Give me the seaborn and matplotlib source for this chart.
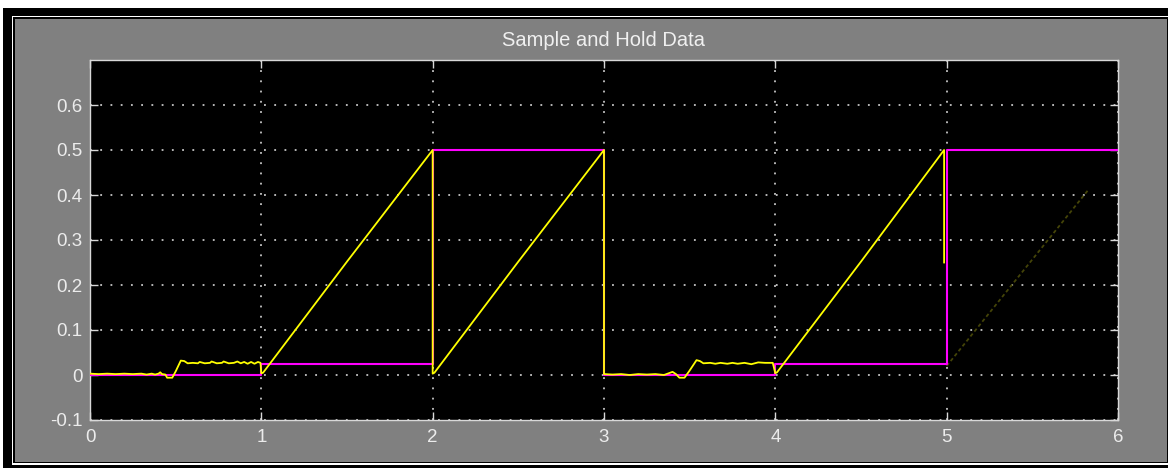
import matplotlib
matplotlib.use("Agg")
import matplotlib.pyplot as plt
from matplotlib.patches import Rectangle
import numpy as np
import pandas as pd
import seaborn as sns

# ---- data -------------------------------------------------------------
# continuous input signal (sawtooth with small ripple)
input_t = [0.00, 0.05, 0.10, 0.15, 0.20, 0.25, 0.30, 0.33, 0.36, 0.38,
           0.40, 0.41, 0.42, 0.44, 0.45, 0.48, 0.50, 0.53, 0.55, 0.57,
           0.60, 0.63, 0.64, 0.67, 0.70, 0.71, 0.74, 0.77, 0.78, 0.81,
           0.84, 0.86, 0.88, 0.90, 0.92, 0.94, 0.96, 0.98, 0.995, 1.00,
           1.01, 1.50, 2.00,
           2.00, 2.01, 2.50, 3.00,
           3.00, 3.05, 3.10, 3.15, 3.20, 3.25, 3.30, 3.35, 3.40, 3.42,
           3.44, 3.47, 3.50, 3.54, 3.56, 3.58, 3.62, 3.65, 3.68, 3.72,
           3.75, 3.78, 3.82, 3.86, 3.90, 3.94, 3.97, 3.985, 4.00,
           4.01, 4.50, 4.985,
           4.985]
input_y = [0.003, 0.002, 0.003, 0.002, 0.003, 0.002, 0.003, 0.001, 0.003, 0.001,
           0.003, 0.006, 0.002, 0.001, -0.006, -0.006, 0.008, 0.032, 0.031, 0.026,
           0.027, 0.026, 0.029, 0.026, 0.027, 0.030, 0.026, 0.027, 0.030, 0.026,
           0.027, 0.030, 0.026, 0.029, 0.025, 0.029, 0.025, 0.029, 0.027, 0.004,
           0.005, 0.252, 0.500,
           0.003, 0.005, 0.252, 0.500,
           0.002, 0.001, 0.002, 0.000, 0.002, 0.001, 0.002, 0.000, 0.007, 0.002,
           -0.006, -0.006, 0.010, 0.033, 0.031, 0.026, 0.027, 0.025, 0.027, 0.025,
           0.027, 0.025, 0.027, 0.024, 0.028, 0.027, 0.027, 0.027, 0.004,
           0.006, 0.252, 0.500,
           0.250]

# sampled-and-held output
held_t = [0, 1, 1, 2, 2, 3, 3, 4, 4, 5, 5, 6]
held_y = [0.0, 0.0, 0.024, 0.024, 0.5, 0.5, 0.0, 0.0, 0.024, 0.024, 0.5, 0.5]

# faint trace of the next ramp
faint_t = [5.0, 5.83]
faint_y = [0.02, 0.413]

x_ticks = [0, 1, 2, 3, 4, 5, 6]
x_labels = ["0", "1", "2", "3", "4", "5", "6"]
y_ticks = [-0.1, 0.0, 0.1, 0.2, 0.3, 0.4, 0.5, 0.6]
y_labels = ["-0.1", "0", "0.1", "0.2", "0.3", "0.4", "0.5", "0.6"]

title = "Sample and Hold Data"

# ---- figure -----------------------------------------------------------
W, H = 1168, 468
plt.rcParams["font.family"] = ["Liberation Sans", "DejaVu Sans"]
fig = plt.figure(figsize=(W / 100, H / 100), dpi=100, facecolor="white")


def frame_rect(x0, y0, x1, y1, color):
    fig.add_artist(Rectangle((x0 / W, 1 - y1 / H), (x1 - x0) / W, (y1 - y0) / H,
                             transform=fig.transFigure, facecolor=color,
                             edgecolor="none", zorder=-10))


# window frame: black band, thin white line, thin black line, gray panel
frame_rect(3, 8, 1168, 468, "black")
frame_rect(12, 16, 1168, 465.3, "white")
frame_rect(13.3, 17.3, 1168, 463.3, "black")
frame_rect(15, 19, 1167, 462, "#808080")

ax = fig.add_axes([90 / W, 1 - 420 / H, 1028 / W, 360 / H])
ax.set_facecolor("black")

held = pd.DataFrame({"t": held_t, "v": held_y})
sig = pd.DataFrame({"t": input_t, "v": input_y})
faint = pd.DataFrame({"t": faint_t, "v": faint_y})

sns.lineplot(data=faint, x="t", y="v", ax=ax, color="#444408", lw=1.3,
             sort=False, estimator=None, linestyle=(0, (2, 1.5)), zorder=2)
sns.lineplot(data=held, x="t", y="v", ax=ax, color="#ff00ff", lw=1.5,
             sort=False, estimator=None, zorder=3)
sns.lineplot(data=sig, x="t", y="v", ax=ax, color="#ffff00", lw=1.3,
             sort=False, estimator=None, zorder=4)

ax.set_xlim(0, 6)
ax.set_ylim(-0.1, 0.7)
ax.set_xticks(x_ticks)
ax.set_xticklabels(x_labels)
ax.set_yticks(y_ticks)
ax.set_yticklabels(y_labels)
ax.set_xlabel("")
ax.set_ylabel("")

edge = "#d8d8d8"
for s in ax.spines.values():
    s.set_color(edge)
    s.set_linewidth(1.0)

ax.tick_params(axis="both", direction="in", length=6, width=1.0, color=edge,
               labelcolor="#ececec", labelsize=13.5, top=True, right=True)
ax.tick_params(axis="y", pad=5.5)
ax.tick_params(axis="x", pad=6.5)

ax.grid(True, color="#e6e6e6", linestyle=(0, (1.2, 5.5)), linewidth=1.1)
ax.set_axisbelow(True)

ax.set_title(title, color="#f0f0f0", fontsize=14.5, pad=10)

fig.savefig("out.png", dpi=100, facecolor=fig.get_facecolor())
